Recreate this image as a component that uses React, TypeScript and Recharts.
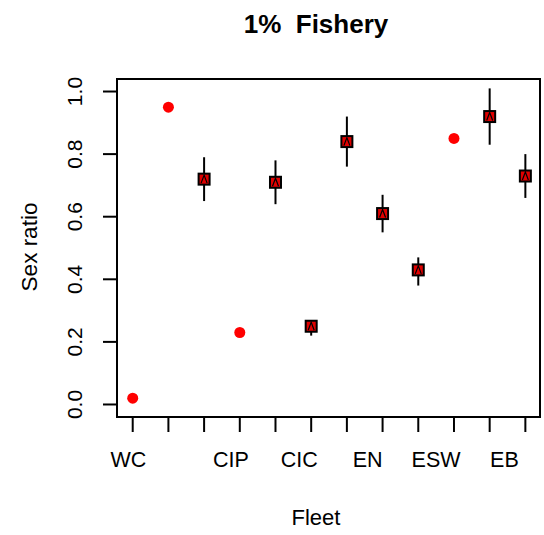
import React from 'react'
import { ScatterChart, Scatter, XAxis, YAxis, ErrorBar, ReferenceArea } from 'recharts'

// fleet positions and the names printed under the axis
const labelFleet = [1, 4, 6, 8, 10, 12]
const labelNames = ['WC', 'CIP', 'CIC', 'EN', 'ESW', 'EB']
const fleetTicks = [1, 2, 3, 4, 5, 6, 7, 8, 9, 10, 11, 12]
const ratioTicks = [0, 0.2, 0.4, 0.6, 0.8, 1.0]

// fleets with a point estimate only
const dotFleet = [1, 2, 4, 10]
const dotRatio = [0.02, 0.95, 0.23, 0.85]

// fleets with an estimate and interval
const boxFleet = [3, 5, 6, 7, 8, 9, 11, 12]
const boxRatio = [0.72, 0.71, 0.25, 0.84, 0.61, 0.43, 0.92, 0.73]
const boxLower = [0.65, 0.64, 0.22, 0.76, 0.55, 0.38, 0.83, 0.66]
const boxUpper = [0.79, 0.78, 0.27, 0.92, 0.67, 0.47, 1.01, 0.8]

const dotData = dotFleet.map((f, i) => ({ fleet: f, ratio: dotRatio[i] }))
const boxData = boxFleet.map((f, i) => ({
  fleet: f,
  ratio: boxRatio[i],
  err: [boxRatio[i] - boxLower[i], boxUpper[i] - boxRatio[i]],
}))

const X_DOMAIN: [number, number] = [0.56, 12.41]
const Y_DOMAIN: [number, number] = [-0.04, 1.04]

const FONT = '"Liberation Sans", Arial, sans-serif'
const LINE = { stroke: '#000', strokeWidth: 2 }

const RedDot = (props: any) => <circle cx={props.cx} cy={props.cy} r={5.5} fill="#ff0000" />

const BoxMark = (props: any) => {
  const { cx, cy } = props
  return (
    <g>
      <rect x={cx - 5.5} y={cy - 5.5} width={11} height={11} fill="#e00000" stroke="#000" strokeWidth={2} />
      <path d={`M${cx - 3},${cy + 4} L${cx},${cy - 4} L${cx + 3},${cy + 4}`} fill="none" stroke="#000" strokeWidth={1.2} />
    </g>
  )
}

const YTick = (props: any) => {
  const { y, payload } = props
  const bx = 82
  return (
    <text x={bx} y={y} transform={`rotate(-90, ${bx}, ${y})`} textAnchor="middle" fontSize={21} fontFamily={FONT} fill="#000">
      {payload.value.toFixed(1)}
    </text>
  )
}

// names are spaced a little tighter than the tick marks, drifting left towards the right end
const FleetTick = (props: any) => {
  const { x, payload } = props
  const i = labelFleet.indexOf(payload.value)
  if (i < 0) return <g />
  const lx = x - 4.4 - (payload.value - 1) * 1.5
  return (
    <text x={lx} y={467} textAnchor="middle" fontSize={21.5} fontFamily={FONT} fill="#000">
      {labelNames[i]}
    </text>
  )
}

export default function App() {
  return (
    <div style={{ position: 'absolute', left: 0, top: 0, width: 544, height: 535, background: '#fff' }}>
      <ScatterChart width={544} height={535} margin={{ top: 79, right: 4, bottom: 0, left: 0 }}>
        <XAxis
          dataKey="fleet"
          type="number"
          domain={X_DOMAIN}
          ticks={fleetTicks}
          allowDataOverflow
          height={118}
          tickSize={15}
          tick={FleetTick}
          tickLine={LINE}
          axisLine={LINE}
        />
        <YAxis
          dataKey="ratio"
          type="number"
          domain={Y_DOMAIN}
          ticks={ratioTicks}
          allowDataOverflow
          width={117}
          tickSize={14}
          tick={YTick}
          tickLine={LINE}
          axisLine={LINE}
        />
        <ReferenceArea x1={X_DOMAIN[0]} x2={X_DOMAIN[1]} y1={Y_DOMAIN[0]} y2={Y_DOMAIN[1]} fill="none" stroke="#000" strokeWidth={2} />
        <Scatter data={dotData} shape={RedDot} isAnimationActive={false} />
        <Scatter data={boxData} shape={BoxMark} isAnimationActive={false}>
          <ErrorBar dataKey="err" direction="y" width={0} stroke="#000" strokeWidth={2} />
        </Scatter>
      </ScatterChart>
      <svg width={544} height={535} style={{ position: 'absolute', left: 0, top: 0, pointerEvents: 'none' }}>
        <text x={316} y={33} textAnchor="middle" fontSize={26} fontWeight="bold" fontFamily={FONT} fill="#000" style={{ whiteSpace: 'pre' }}>
          {'1%  Fishery'}
        </text>
        <text x={316} y={525} textAnchor="middle" fontSize={22} fontFamily={FONT} fill="#000">
          Fleet
        </text>
        <text x={37} y={247} transform="rotate(-90, 37, 247)" textAnchor="middle" fontSize={22.5} fontFamily={FONT} fill="#000">
          Sex ratio
        </text>
      </svg>
    </div>
  )
}
